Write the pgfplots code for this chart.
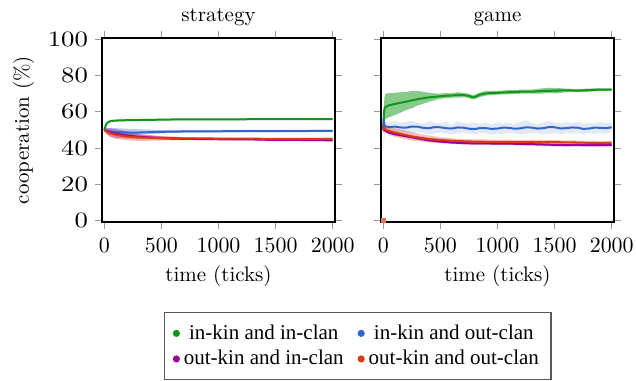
\documentclass[border=0pt]{standalone}
\usepackage{pgfplots}
\pgfplotsset{compat=1.18}
\usepgfplotslibrary{fillbetween}
\usepackage{graphicx}
\usepackage{fontspec}
\newfontfamily\legendfont{Liberation Serif}
\definecolor{cgreen}{HTML}{109618}
\definecolor{cblue}{HTML}{3366CC}
\definecolor{cpurple}{HTML}{990099}
\definecolor{cred}{HTML}{DC3912}
\newcommand\fs{\fontsize{10.5}{12.6}\selectfont}
\pgfplotsset{
  myaxis/.style={
    width=116.5pt, height=92pt, scale only axis,
    xmin=-20, xmax=2020, ymin=-0.7, ymax=100.7,
    xtick={0,500,1000,1500,2000}, ytick={0,20,40,60,80,100},
    tick align=outside, major tick length=3.5pt,
    tick style={black!40, line width=0.6pt},
    xlabel={time (ticks)},
    axis line style={line width=0.6pt},
    /pgf/number format/1000 sep={},
    tick label style={font=\fs},
    xticklabel style={yshift=-1pt},
    label style={font=\fs},
    title style={font=\fs, yshift=-3.5pt},
    yticklabel={\scalebox{1.22}[1]{$\pgfmathprintnumber{\tick}$}},
  },
  edge/.style={draw=none, forget plot, name path=#1},
  band/.style={draw=none, forget plot, fill=#1},
  mean/.style={#1, line width=1pt, no markers},
}
\begin{document}
\begin{tikzpicture}
\begin{axis}[myaxis, at={(0pt,0pt)}, anchor=south west, title={strategy}, ylabel={cooperation (\%)}]
% band edges
\addplot[edge=gU] coordinates {(0,50.3)(10,52.5)(20,54)(40,55)(60,55.5)(100,55.7)(200,55.9)(400,56.1)(600,56.3)(800,56.2)(1000,56.3)(1200,56.3)(1400,56.4)(1600,56.4)(1800,56.5)(2000,56.5)};
\addplot[edge=gL] coordinates {(0,49.7)(10,51.5)(20,53)(40,54)(60,54.5)(100,54.7)(200,54.9)(400,55.1)(600,55.3)(800,55.4)(1000,55.5)(1200,55.5)(1400,55.6)(1600,55.6)(1800,55.5)(2000,55.5)};
\addplot[edge=bU] coordinates {(0,50.5)(20,50.8)(50,51)(100,51)(200,50.7)(300,50.4)(400,50.2)(500,50)(700,49.9)(1000,49.9)(1300,50)(1600,49.9)(2000,50.1)};
\addplot[edge=bL] coordinates {(0,49.5)(20,48.4)(50,47.4)(100,47)(200,47.2)(300,47.4)(400,47.8)(500,48.1)(700,48.5)(1000,48.7)(1300,48.8)(1600,48.9)(2000,48.9)};
\addplot[edge=pU] coordinates {(0,50.5)(20,51)(50,51)(100,50.5)(200,49.2)(300,47.8)(500,46.5)(700,45.8)(1000,45.4)(1300,45.3)(1500,45)(1700,45)(2000,44.8)};
\addplot[edge=pL] coordinates {(0,49.5)(20,47.8)(50,46.3)(100,45.6)(200,45.4)(300,45.1)(500,44.7)(700,44.5)(1000,44.4)(1300,44.3)(1500,43.9)(1700,44)(2000,43.8)};
\addplot[edge=rU] coordinates {(0,50.4)(20,50)(50,49.5)(100,48.8)(200,47.8)(300,47.3)(500,46.7)(700,46.1)(1000,45.8)(1300,45.6)(1600,45.5)(2000,45.5)};
\addplot[edge=rL] coordinates {(0,49.6)(20,48)(50,46.5)(100,45.2)(200,44.4)(300,44)(500,44.2)(700,44.5)(1000,44.8)(1300,44.8)(1600,44.7)(2000,44.7)};
\addplot[band=cgreen, fill opacity=0.35] fill between[of=gU and gL];
\addplot[band=cblue, fill opacity=0.35] fill between[of=bU and bL];
\addplot[band=cpurple, fill opacity=0.35] fill between[of=pU and pL];
\addplot[band=cred, fill opacity=0.35] fill between[of=rU and rL];
% means
\addplot[mean=cgreen] coordinates {(0,50)(10,52)(20,53.5)(40,54.5)(60,55)(100,55.2)(200,55.4)(400,55.6)(600,55.8)(800,55.8)(1000,55.9)(1200,55.9)(1400,56)(1600,56)(1800,56)(2000,56)};
\addplot[mean=cblue] coordinates {(0,50)(20,49.6)(50,49.2)(100,48.9)(200,48.6)(300,48.6)(400,48.8)(500,49)(700,49.2)(1000,49.3)(1300,49.4)(1600,49.4)(2000,49.5)};
\addplot[mean=cpurple] coordinates {(0,50)(20,49.5)(50,48.8)(100,48)(200,47)(300,46.3)(500,45.5)(700,45.1)(1000,44.9)(1300,44.8)(1500,44.5)(1700,44.5)(2000,44.3)};
\addplot[mean=cred] coordinates {(0,50)(20,49.2)(50,48.3)(100,47.4)(200,46.4)(300,45.9)(500,45.6)(700,45.4)(1000,45.3)(1300,45.2)(1600,45.1)(2000,45.1)};
\end{axis}
\begin{axis}[myaxis, at={(139.5pt,0pt)}, anchor=south west, title={game}, yticklabels={},
  legend columns=2,
  legend style={font=\legendfont\fs, draw=black!65, line width=0.6pt, at={(-0.099,-0.489)}, anchor=north,
    inner xsep=4pt, inner ysep=4pt,
    /tikz/every even column/.append style={column sep=5pt},
    /tikz/every row/.append style={row sep=5.5pt}},
  legend image code/.code={\fill[#1] (0.05cm,0cm) circle (1.25pt);}]
% band edges
\addplot[edge=GU] coordinates {(0,50.5)(5,62)(10,68)(20,70)(50,70.3)(100,70.5)(150,70.8)(200,71)(250,71.5)(300,71.6)(350,71)(400,70.5)(450,70.2)(500,70)(550,70.4)(600,70.3)(650,70.8)(700,70.5)(750,70)(780,69.3)(800,69.5)(850,70.8)(900,71.5)(1000,71.6)(1100,72)(1200,72.2)(1300,72.3)(1400,73)(1450,73.3)(1500,73.2)(1550,73)(1600,72.8)(1700,72.6)(1800,72.8)(1900,73)(2000,73)};
\addplot[edge=GL] coordinates {(0,49.5)(5,54)(10,55)(20,56)(50,57)(100,58.2)(150,59.5)(200,61)(250,62)(300,63.5)(350,64.5)(400,65.5)(450,66.5)(500,67.2)(550,67.5)(600,67.8)(650,67.8)(700,68)(750,67.6)(780,66.8)(800,67)(850,68.2)(900,69)(1000,69.5)(1100,69.7)(1200,70)(1300,70)(1400,70.1)(1450,70.4)(1500,70.2)(1550,70.3)(1600,71)(1700,70.9)(1800,71.1)(1900,71.5)(2000,71.5)};
\addplot[edge=BU] coordinates {(0,50.5)(3,61)(8,58)(20,55)(50,54)(100,55)(150,53.8)(200,54.5)(250,55)(300,54)(350,53.5)(400,54.8)(450,54)(500,53.6)(550,54.5)(600,53.2)(650,54.6)(700,53.8)(750,53.5)(800,54.2)(850,53.3)(900,54)(950,53)(1000,54.3)(1050,53.6)(1100,54)(1150,53.4)(1200,54.5)(1250,55.5)(1300,54)(1350,53.5)(1400,54.2)(1450,55)(1500,54)(1550,53.6)(1600,54.4)(1650,53.8)(1700,54.3)(1750,53.4)(1800,54)(1850,53.5)(1900,54.5)(1950,53.8)(2000,54)};
\addplot[edge=BL] coordinates {(0,49.5)(3,39)(8,45)(20,48.5)(50,49)(100,48.5)(150,48.8)(200,48.4)(250,48.2)(300,48.8)(350,48.5)(400,47.8)(450,48)(500,48.7)(550,48.3)(600,47.6)(650,48.1)(700,48.6)(750,47.9)(800,47.5)(850,48.5)(900,48.2)(950,47.4)(1000,48)(1050,47.8)(1100,48.6)(1150,48.1)(1200,47.5)(1250,47.9)(1300,48.5)(1350,48.2)(1400,47.6)(1450,48)(1500,48.4)(1550,47.5)(1600,48.3)(1650,48)(1700,48.5)(1750,47.6)(1800,48.2)(1850,47.8)(1900,48.6)(1950,48)(2000,48.8)};
\addplot[edge=PU] coordinates {(0,50.5)(20,50.3)(50,49.4)(100,48.5)(200,47.4)(300,46.2)(400,45.1)(500,44.4)(600,43.9)(700,43.6)(800,43.4)(900,43.4)(1000,43.3)(1100,43.3)(1200,43.1)(1300,43)(1400,42.8)(1500,42.6)(1600,42.5)(1700,42.6)(1800,42.4)(1900,42.4)(2000,42.6)};
\addplot[edge=PL] coordinates {(0,49.5)(20,48.7)(50,47.8)(100,46.9)(200,45.8)(300,44.6)(400,43.5)(500,42.8)(600,42.3)(700,42)(800,41.8)(900,41.8)(1000,41.7)(1100,41.7)(1200,41.5)(1300,41.4)(1400,41.2)(1500,41)(1600,40.9)(1700,41)(1800,40.8)(1900,40.8)(2000,41)};
\addplot[edge=RU] coordinates {(0,51)(5,53)(20,52)(50,51.8)(100,51)(150,50.3)(200,49.6)(250,48.8)(300,48.2)(350,47.5)(400,47)(450,46.5)(500,46)(600,45.4)(700,45.1)(800,44.8)(900,44.8)(1000,44.6)(1100,44.7)(1200,44.5)(1300,44.6)(1400,44.5)(1500,44.4)(1600,44.3)(1700,44.2)(1800,44)(1900,43.9)(2000,44)};
\addplot[edge=RL] coordinates {(0,49)(5,50)(20,48.6)(50,47.2)(100,46.2)(150,45.5)(200,44.8)(250,44.2)(300,43.8)(350,43.5)(400,43.2)(450,43.1)(500,43)(600,42.8)(700,42.5)(800,42.4)(900,42.2)(1000,42.2)(1100,42.1)(1200,42.1)(1300,42.2)(1400,42.1)(1500,42.2)(1600,42.1)(1700,42)(1800,41.8)(1900,41.7)(2000,41.8)};
\addplot[band=cgreen, fill opacity=0.5] fill between[of=GU and GL];
\addplot[band=cblue, fill opacity=0.15] fill between[of=BU and BL];
\addplot[band=cpurple, fill opacity=0.3] fill between[of=PU and PL];
\addplot[band=cred, fill opacity=0.3] fill between[of=RU and RL];
% means
\addplot[mean=cgreen] coordinates {(0,50)(5,58)(10,61.5)(20,62.8)(50,63.6)(100,64.3)(150,65)(200,65.6)(250,66.3)(300,67)(350,67.5)(400,68)(450,68.3)(500,68.6)(550,68.9)(600,69)(650,69.3)(700,69.3)(750,68.8)(780,68.1)(800,68.2)(850,69.5)(900,70.2)(1000,70.5)(1100,70.8)(1200,71.1)(1300,71.1)(1400,71.5)(1500,71.7)(1600,71.9)(1700,71.7)(1800,72)(1900,72.3)(2000,72.3)};
\addlegendentry{in-kin and in-clan}
\addplot[mean=cblue] coordinates {(0,50)(3,56)(8,53)(20,52)(50,51.5)(100,51.9)(150,51.4)(200,51.3)(250,51.9)(300,51.8)(350,51.2)(400,51)(450,51.6)(500,51.5)(550,51)(600,50.8)(650,51.4)(700,51.3)(750,50.7)(800,50.5)(850,51.1)(900,51)(950,50.6)(1000,50.8)(1050,51.3)(1100,51.2)(1150,50.7)(1200,50.9)(1250,51.5)(1300,51.3)(1350,50.8)(1400,51)(1450,51.6)(1500,51.5)(1550,50.9)(1600,51)(1650,51.4)(1700,51.3)(1750,50.6)(1800,50.8)(1850,51.3)(1900,51.2)(1950,51)(2000,51.5)};
\addlegendentry{in-kin and out-clan}
\addplot[mean=cpurple] coordinates {(0,50)(20,49.5)(50,48.6)(100,47.7)(200,46.6)(300,45.4)(400,44.3)(500,43.6)(600,43.1)(700,42.8)(800,42.6)(900,42.6)(1000,42.5)(1100,42.5)(1200,42.3)(1300,42.2)(1400,42)(1500,41.8)(1600,41.7)(1700,41.8)(1800,41.6)(1900,41.6)(2000,41.8)};
\addlegendentry{out-kin and in-clan}
\addplot[mean=cred] coordinates {(0,50)(5,51.5)(20,50.3)(50,49.5)(100,48.6)(150,47.9)(200,47.2)(250,46.5)(300,46)(350,45.5)(400,45.1)(450,44.8)(500,44.5)(600,44.1)(700,43.8)(800,43.6)(900,43.5)(1000,43.4)(1100,43.4)(1200,43.3)(1300,43.4)(1400,43.3)(1500,43.3)(1600,43.2)(1700,43.1)(1800,42.9)(1900,42.8)(2000,42.9)};
\addlegendentry{out-kin and out-clan}
\addplot[only marks, mark=square*, mark size=1pt, color=cred!70, forget plot] coordinates {(0,0)};
\end{axis}
\pgfresetboundingbox
\useasboundingbox (-51pt,-79pt) rectangle (267pt,111pt);
\end{tikzpicture}
\end{document}
